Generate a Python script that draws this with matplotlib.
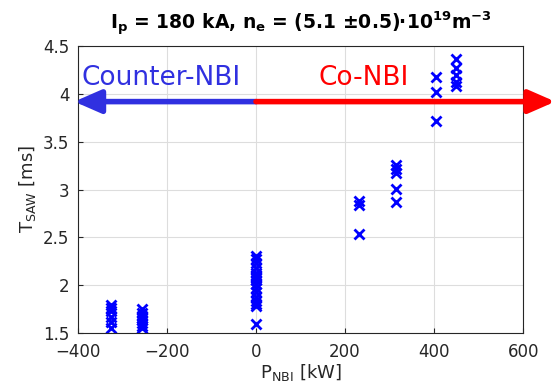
import matplotlib
matplotlib.use('Agg')
import matplotlib.pyplot as plt

# NBI power [kW] and sawtooth period [ms]
p_m325 = [1.79, 1.76, 1.73, 1.67, 1.61, 1.55]
p_m255 = [1.75, 1.71, 1.68, 1.66, 1.63, 1.60, 1.57, 1.55]
p_0 = [2.30, 2.27, 2.23, 2.18, 2.13, 2.11, 2.09, 2.07, 2.05, 2.01, 1.97,
       1.93, 1.88, 1.83, 1.80, 1.78, 1.59]
p_232 = [2.88, 2.84, 2.54]
p_315 = [3.26, 3.21, 3.17, 3.01, 2.87]
p_405 = [4.18, 4.02, 3.72]
p_450 = [4.37, 4.27, 4.20, 4.12, 4.08]

groups = [(-325, p_m325), (-255, p_m255), (0, p_0), (232, p_232),
          (315, p_315), (405, p_405), (450, p_450)]

fig = plt.figure(figsize=(5.56, 3.88), dpi=100)
ax = fig.add_axes([0.140, 0.142, 0.801, 0.739])

for xv, ys in groups:
    ax.plot([xv] * len(ys), ys, 'x', color='#0000ff', ms=6.5, mew=2)

ax.set_xlim(-400, 600)
ax.set_ylim(1.5, 4.5)
ax.set_xticks([-400, -200, 0, 200, 400, 600])
ax.set_yticks([1.5, 2, 2.5, 3, 3.5, 4, 4.5])
ax.set_yticklabels(['1.5', '2', '2.5', '3', '3.5', '4', '4.5'])
ax.grid(True, color='#dddddd', lw=0.8)
ax.set_axisbelow(True)
ax.tick_params(direction='in', labelsize=12, colors='#262626')
ax.tick_params(axis='x', pad=7)
ax.tick_params(axis='y', pad=6)
for s in ax.spines.values():
    s.set_color('#262626')

ax.set_xlabel(r'P$_{\mathrm{NBI}}$ [kW]', fontsize=13, color='#262626', labelpad=1)
ax.set_ylabel(r'T$_{\mathrm{SAW}}$ [ms]', fontsize=13, color='#262626', labelpad=4)
ax.set_title(r'$\mathbf{I_p}$ = 180 kA, $\mathbf{n_e}$ = (5.1 ±0.5)·10$^{\mathbf{19}}$m$^{\mathbf{-3}}$',
             fontsize=13.5, fontweight='bold', pad=12)

# direction arrows
ax.annotate('', xy=(-408, 3.92), xytext=(0, 3.92), annotation_clip=False,
            arrowprops=dict(arrowstyle='-|>,head_length=1.6,head_width=0.7',
                            color='#3030e0', lw=4, shrinkA=0, shrinkB=0))
ax.annotate('', xy=(672, 3.92), xytext=(0, 3.92), annotation_clip=False,
            arrowprops=dict(arrowstyle='-|>,head_length=1.6,head_width=0.7',
                            color='#ff0000', lw=4, shrinkA=0, shrinkB=0))
ax.text(-392, 4.17, 'Counter-NBI', color='#3030e0', fontsize=19, va='center')
ax.text(140, 4.17, 'Co-NBI', color='#ff0000', fontsize=19, va='center')

fig.savefig('out.png', dpi=100)
